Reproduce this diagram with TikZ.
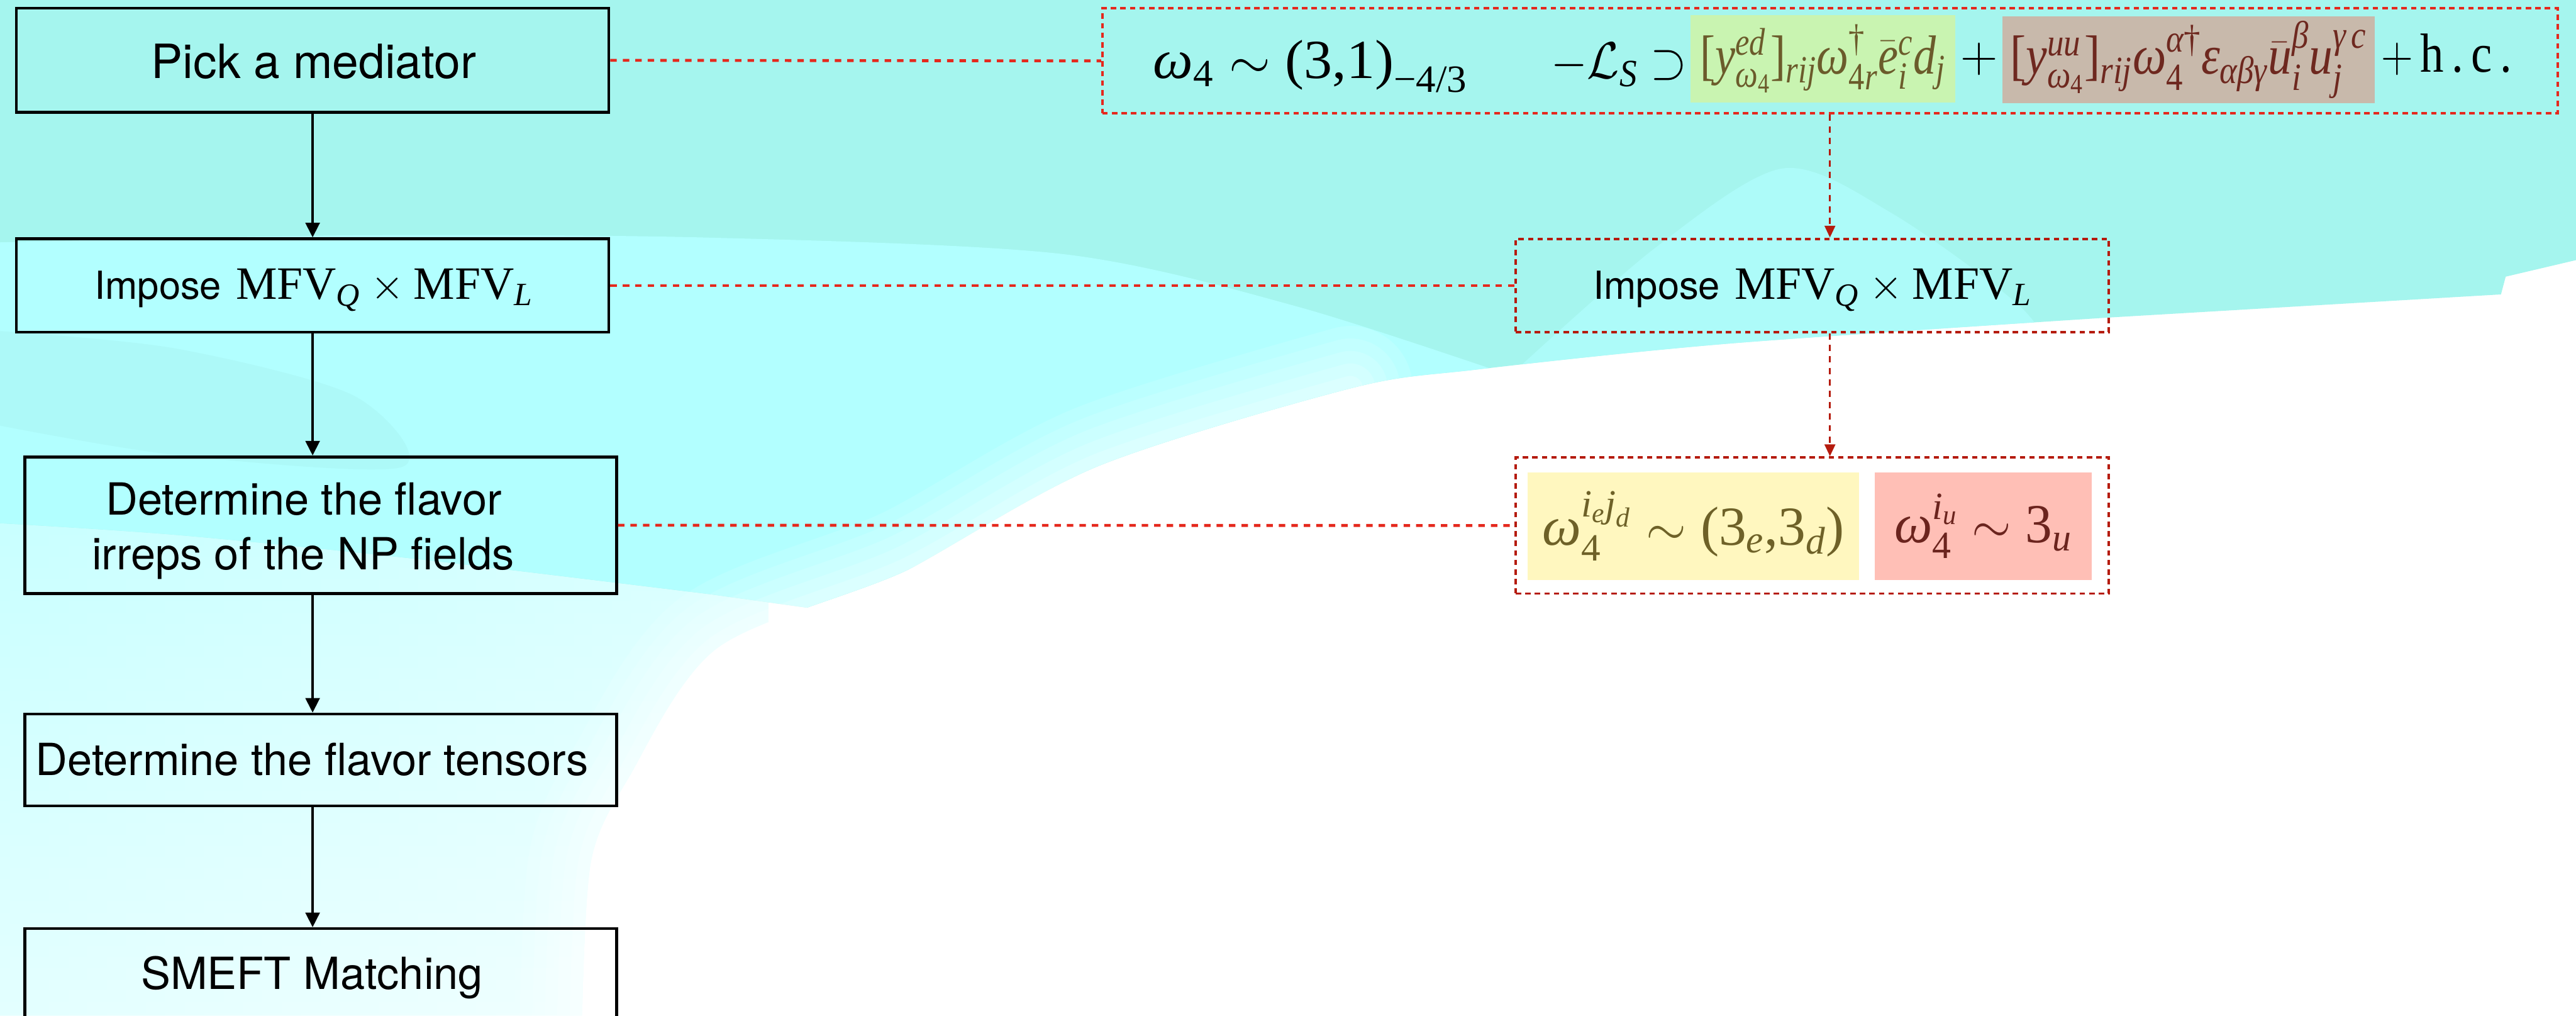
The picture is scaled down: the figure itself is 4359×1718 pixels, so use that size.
\documentclass[tikz,border=0pt]{standalone}
\usepackage{amsmath}
\usepackage{graphicx}
\usepackage{fontspec}
\newfontfamily\heros{TeX Gyre Heros}
\newfontfamily\tnr{Liberation Serif}
\newcommand\iv[1]{\text{\tnr\itshape #1}}
\newcommand\uv[1]{\text{\tnr\upshape #1}}
\newcommand\fitw[2]{\resizebox{#1}{\height}{#2}}
\usetikzlibrary{arrows.meta}
\definecolor{bgc}{HTML}{A5F5EE}
\definecolor{bgb}{HTML}{B2FFFF}
\definecolor{bgp}{HTML}{D4FFFF}
\definecolor{redl}{HTML}{E5281D}
\definecolor{redd}{HTML}{B51B0E}
\definecolor{grnbg}{HTML}{C9F4B1}
\definecolor{olivetx}{HTML}{6B5B2B}
\definecolor{brnbg}{HTML}{C8B9AB}
\definecolor{brntx}{HTML}{6E281F}
\definecolor{ylwbg}{HTML}{FFF7BF}
\definecolor{ylwtx}{HTML}{6E6128}
\definecolor{pnkbg}{HTML}{FFBFB6}
\definecolor{pnktx}{HTML}{6B241E}
\newcommand\fA{\heros\fontsize{22.7pt}{27pt}\selectfont}
\newcommand\fB{\heros\fontsize{18.6pt}{22pt}\selectfont}
\newcommand\fC{\heros\fontsize{21.3pt}{26pt}\selectfont}
\newcommand\fM{\fontsize{22.3pt}{26pt}\selectfont}
\newcommand\fF{\fontsize{26.5pt}{30pt}\selectfont}
\newcommand\mfvtext{{\fB Impose}\hspace{7pt}{\fM$\uv{MFV}_{\iv{Q}}\times\uv{MFV}_{\iv{L}}$}}
\begin{document}
\begin{tikzpicture}[x=0.01cm,y=-0.01cm,
  lbox/.style={draw=black,line width=1.4pt,inner sep=0pt},
  rbox/.style={draw=redd,line width=1.2pt,dash pattern=on 2.6pt off 2pt,inner sep=0pt},
  conn/.style={draw=redl,line width=1.4pt,dash pattern=on 3.1pt off 2.9pt},
  blk/.style={line width=1.1pt,-{Triangle[length=7pt,width=6.8pt]}},
  rarr/.style={draw=redd,line width=0.9pt,dash pattern=on 3pt off 2.5pt,-{Triangle[length=5.7pt,width=5.1pt]}},
  hl/.style={inner sep=0pt,draw=none,font=\fF},
  glow/.style={draw=white,line cap=round,line join=round}]
\useasboundingbox (0,0) rectangle (4359,1718);
% ---------- background ----------
\fill[white] (0,0) rectangle (4359,1718);
\begin{scope}
\clip (0,0) -- (4359,0) -- (4359,440) -- (4240,468) -- (4232,498)
  -- plot[smooth] coordinates {(3571,537) (2928,581) (2500,625) (2285,657) (1857,789) (1536,964) (1214,1096) (1064,1315) (1000,1457) (985,1718)}
  -- (0,1718) -- cycle;
\shade[left color=bgp,right color=white!92!bgp] (0,850) rectangle (1300,1718);
\shade[top color=bgb!60!bgp,bottom color=bgp!40!white,opacity=0.6] (0,850) rectangle (1300,1718);
\begin{scope}
\clip (0,0) -- (4359,0) -- (4359,440) -- (4240,468) -- (4232,498)
  -- plot[smooth] coordinates {(3571,537) (2928,581) (2500,625) (2285,657) (1857,789) (1536,964) (1380,1030)}
  -- plot[smooth] coordinates {(1200,1005) (700,945) (300,905) (0,885)} -- cycle;
\fill[bgc] (0,0) rectangle (4359,1100);
\fill[bgb] plot[smooth] coordinates {(0,410) (600,398) (1200,402) (1800,430) (2200,520) (2600,650)} -- (2600,1100) -- (0,1100) -- cycle;
\fill[bgb!65!bgc] plot[smooth] coordinates {(2550,640) (2800,420) (3016,285) (3200,360) (3420,520) (3500,640)} -- cycle;
\fill[bgc!92!black,opacity=0.18] plot[smooth] coordinates {(0,560) (300,590) (600,670) (680,790) (300,770) (0,720)} -- cycle;
\end{scope}
\foreach \w/\o in {60/0.12,48/0.12,36/0.14,24/0.16,12/0.2}{
  \draw[glow,line width=\w pt,opacity=\o] plot[smooth] coordinates {(2285,657) (1857,789) (1536,964) (1214,1096) (1064,1315) (1000,1457) (985,1718)};
}
\end{scope}
% ---------- left flow ----------
\node[lbox,minimum width=10.02cm,minimum height=1.76cm] (b1) at (529,102) {};
\node[lbox,minimum width=10.02cm,minimum height=1.58cm] (b2) at (529,483) {};
\node[lbox,minimum width=10.01cm,minimum height=2.31cm] (b3) at (542.5,888.5) {};
\node[lbox,minimum width=10.01cm,minimum height=1.55cm] (b4) at (542.5,1285.5) {};
\node[lbox,minimum width=10.01cm,minimum height=2.29cm] (b5) at (542.5,1685.5) {};
\node[anchor=base,inner sep=0pt,font=\fA] (t1) at (531,133) {Pick a mediator};
\node[anchor=base,inner sep=0pt] (t2) at (531,506) {\mfvtext};
\node[anchor=base,inner sep=0pt,font=\fC] (t3a) at (514,871) {Determine the flavor};
\node[anchor=base,inner sep=0pt,font=\fC] (t3b) at (513,964) {irreps of the NP fields};
\node[anchor=base,inner sep=0pt,font=\fC] (t4) at (528,1312) {Determine the flavor tensors};
\node[anchor=base,inner sep=0pt,font=\fC] (t5) at (528,1673) {SMEFT Matching};
\draw[blk] (b1.south) -- (b2.north);
\draw[blk] (b2.south) -- (b2.south |- b3.north);
\draw[blk] (b2.south |- b3.south) -- (b2.south |- b4.north);
\draw[blk] (b2.south |- b4.south) -- (b2.south |- b5.north);
% ---------- right side ----------
\node[rbox,draw=redl,minimum width=24.61cm,minimum height=1.78cm] (rt) at (3096.5,103) {};
\node[rbox,minimum width=10.03cm,minimum height=1.58cm] (rm) at (3066.5,483) {};
\node[rbox,minimum width=10.03cm,minimum height=2.30cm] (rb) at (3066.5,889) {};
\node[hl,fill=grnbg,text=olivetx,minimum width=4.47cm,minimum height=1.47cm] (hg) at (3084.5,99.5) {\fitw{4.15cm}{$\uv{[}\iv{y}^{\iv{ed}}_{\iv{ω}_{\uv{4}}}\uv{]}_{\iv{rij}}\iv{ω}^{\uv{†}}_{\uv{4}\iv{r}}\bar{\iv{e}}^{\iv{c}}_{\iv{i}}\iv{d}_{\iv{j}}$}};
\node[hl,fill=brnbg,text=brntx,minimum width=6.29cm,minimum height=1.46cm] (hu) at (3703.5,101) {\fitw{6.03cm}{$\uv{[}\iv{y}^{\iv{uu}}_{\iv{ω}_{\uv{4}}}\uv{]}_{\iv{rij}}\iv{ω}_{\uv{4}}^{\iv{α}\uv{†}}\iv{ε}_{\iv{αβγ}}\bar{\iv{u}}^{\iv{β}}_{\iv{i}}\iv{u}^{\iv{γ}\,\iv{c}}_{\iv{j}}$}};
\node[hl,fill=ylwbg,text=ylwtx,minimum width=5.61cm,minimum height=1.82cm] (hy) at (2865.5,890) {\fitw{5.11cm}{$\iv{ω}_{\uv{4}}^{\iv{i}_{\iv{e}}\iv{j}_{\iv{d}}}\sim\uv{(}\uv{3}_{\iv{e}}\uv{,}\uv{3}_{\iv{d}}\uv{)}$}};
\node[hl,fill=pnkbg,text=pnktx,minimum width=3.66cm,minimum height=1.82cm] (hp) at (3356,890) {\fitw{3.01cm}{$\iv{ω}_{\uv{4}}^{\iv{i}_{\iv{u}}}\sim\uv{3}_{\iv{u}}$}};
\node[anchor=base west,inner sep=0pt,font=\fF] (fa) at (1951,133) {\fitw{5.32cm}{$\iv{ω}_{\uv{4}}\sim\uv{(3,1)}_{\uv{−4/3}}$}};
\node[anchor=base west,inner sep=0pt,font=\fF] (fb) at (2624,133) {\fitw{2.3cm}{$-\mathcal{L}_{\iv{S}}\supset$}};
\node[anchor=base,inner sep=0pt,font=\fF] (fp) at (3349,122) {$+$};
\node[anchor=base west,inner sep=0pt,font=\fF] (fh) at (4029,122) {\fitw{2.21cm}{$+\,\uv{h\,.\,c\,.}$}};
\node[anchor=base,inner sep=0pt] (tm) at (3067,506) {\mfvtext};
\draw[conn] (b1.east) -- (rt.west);
\draw[conn] (b2.east) -- (rm.west);
\draw[conn] (b3.east) -- (rb.west);
\draw[rarr] (rt.south) -- (rt.south |- rm.north);
\draw[rarr] (rt.south |- rm.south) -- (rt.south |- rb.north);
\end{tikzpicture}
\end{document}
